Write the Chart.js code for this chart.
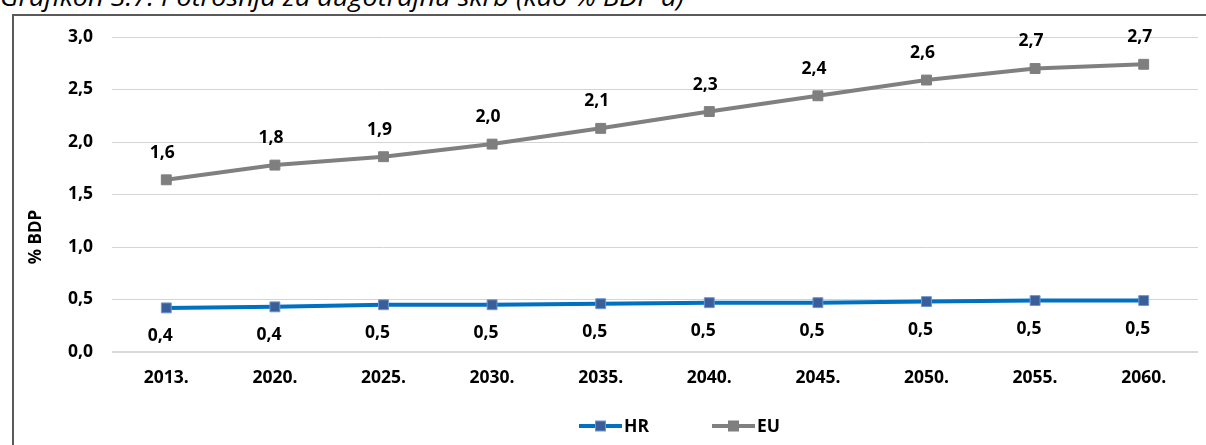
<!DOCTYPE html>
<html>
<head>
<meta charset="utf-8">
<script src="https://cdn.jsdelivr.net/npm/chart.js@4.4.0/dist/chart.umd.min.js"></script>
<style>
  html, body { margin: 0; padding: 0; width: 1206px; height: 445px; overflow: hidden; background: #fff; }
  #title { position: absolute; left: 0; top: -20px; font-family: "Open Sans", sans-serif; font-style: italic; font-size: 26px; line-height: 32px; color: #000; white-space: nowrap; transform-origin: 0 0; }
  #frame { position: absolute; left: 12px; top: 14px; width: 1400px; height: 600px; border: 2px solid #5a5a5a; box-sizing: border-box; }
  #wrap { position: absolute; left: 0; top: 0; width: 1206px; height: 445px; }
</style>
</head>
<body>
<div id="title">Grafikon 3.7: Potrošnja za dugotrajnu skrb (kao % BDP-a)</div>
<div id="frame"></div>
<div id="wrap"><canvas id="c" width="1206" height="445"></canvas></div>
<script>
const categories = ['2013.', '2020.', '2025.', '2030.', '2035.', '2040.', '2045.', '2050.', '2055.', '2060.'];
const hrValues = [0.42, 0.43, 0.45, 0.45, 0.46, 0.47, 0.47, 0.48, 0.49, 0.49];
const euValues = [1.64, 1.78, 1.86, 1.98, 2.13, 2.29, 2.44, 2.59, 2.70, 2.74];
const yTicks = [0, 0.5, 1.0, 1.5, 2.0, 2.5, 3.0];
const seriesNames = ['HR', 'EU'];
const yTitle = '% BDP';

const FONT = '"Open Sans", sans-serif';
const FS = 17.5;
const fmt = v => v.toFixed(1).replace('.', ',');

// fit title width to the reference
(function () {
  const t = document.getElementById('title');
  const w = t.getBoundingClientRect().width;
  if (w > 0) t.style.transform = 'scaleX(' + (684 / w) + ')';
})();

const labelPlugin = {
  id: 'extras',
  afterDatasetsDraw(chart) {
    const ctx = chart.ctx;
    ctx.save();
    ctx.font = 'bold ' + FS + 'px ' + FONT;
    ctx.fillStyle = '#000';
    ctx.textAlign = 'center';
    ctx.textBaseline = 'middle';
    chart.data.datasets.forEach((ds, i) => {
      const meta = chart.getDatasetMeta(i);
      const dy = ds.label === 'EU' ? -27 : 28;
      const dx = ds.label === 'EU' ? -4 : -6;
      meta.data.forEach((pt, j) => {
        ctx.fillText(fmt(ds.data[j]), pt.x + dx, pt.y + dy);
      });
    });
    // y axis title
    ctx.save();
    ctx.translate(36, 237);
    ctx.rotate(-Math.PI / 2);
    ctx.font = 'bold 17px ' + FONT;
    ctx.fillText(yTitle, 0, 0);
    ctx.restore();
    // legend
    const ly = 426;
    let x = 579;
    ctx.textAlign = 'left';
    ctx.font = 'bold ' + FS + 'px ' + FONT;
    chart.data.datasets.forEach((ds) => {
      ctx.strokeStyle = ds.borderColor;
      ctx.lineWidth = 4;
      ctx.beginPath();
      ctx.moveTo(x, ly);
      ctx.lineTo(x + 43, ly);
      ctx.stroke();
      ctx.fillStyle = ds.pointBackgroundColor;
      ctx.strokeStyle = ds.pointBorderColor;
      ctx.lineWidth = 1;
      ctx.fillRect(x + 16.5, ly - 5, 10, 10);
      ctx.strokeRect(x + 16.5, ly - 5, 10, 10);
      ctx.fillStyle = '#000';
      ctx.fillText(ds.label, x + 45, ly + 1);
      x += 133;
    });
    ctx.restore();
  }
};

new Chart(document.getElementById('c'), {
  type: 'line',
  data: {
    labels: categories,
    datasets: [
      {
        label: seriesNames[0],
        data: hrValues,
        borderColor: '#0070C0',
        backgroundColor: '#0070C0',
        borderWidth: 4,
        pointStyle: 'rect',
        pointRadius: 7,
        pointBackgroundColor: '#3A5F98',
        pointBorderColor: '#6E95D3',
        pointBorderWidth: 1,
        tension: 0
      },
      {
        label: seriesNames[1],
        data: euValues,
        borderColor: '#808080',
        backgroundColor: '#808080',
        borderWidth: 4,
        pointStyle: 'rect',
        pointRadius: 7,
        pointBackgroundColor: '#7F7F7F',
        pointBorderColor: '#7F7F7F',
        pointBorderWidth: 1,
        tension: 0
      }
    ]
  },
  options: {
    responsive: false,
    animation: false,
    events: [],
    layout: { padding: { left: 0, right: 8, top: 37, bottom: 0 } },
    plugins: { legend: { display: false }, tooltip: { enabled: false } },
    scales: {
      x: {
        offset: true,
        grid: { display: false, drawTicks: false, offset: true },
        border: { display: false },
        ticks: { color: '#000', font: { family: FONT, size: FS, weight: 'bold' }, padding: 16, maxRotation: 0 },
        afterFit(scale) { scale.height = 93; }
      },
      y: {
        min: 0, max: 3,
        afterBuildTicks(scale) { scale.ticks = yTicks.map(v => ({ value: v })); },
        grid: {
          color: ctx => ctx.tick && ctx.tick.value === 0 ? '#D9D9D9' : '#D4D4D4',
          lineWidth: ctx => ctx.tick && ctx.tick.value === 0 ? 2 : 1,
          drawTicks: false
        },
        border: { display: false },
        ticks: {
          color: '#000',
          font: { family: FONT, size: FS, weight: 'bold' },
          padding: 19,
          callback: v => fmt(v)
        },
        afterFit(scale) { scale.width = 112; }
      }
    }
  },
  plugins: [labelPlugin]
});
</script>
</body>
</html>
